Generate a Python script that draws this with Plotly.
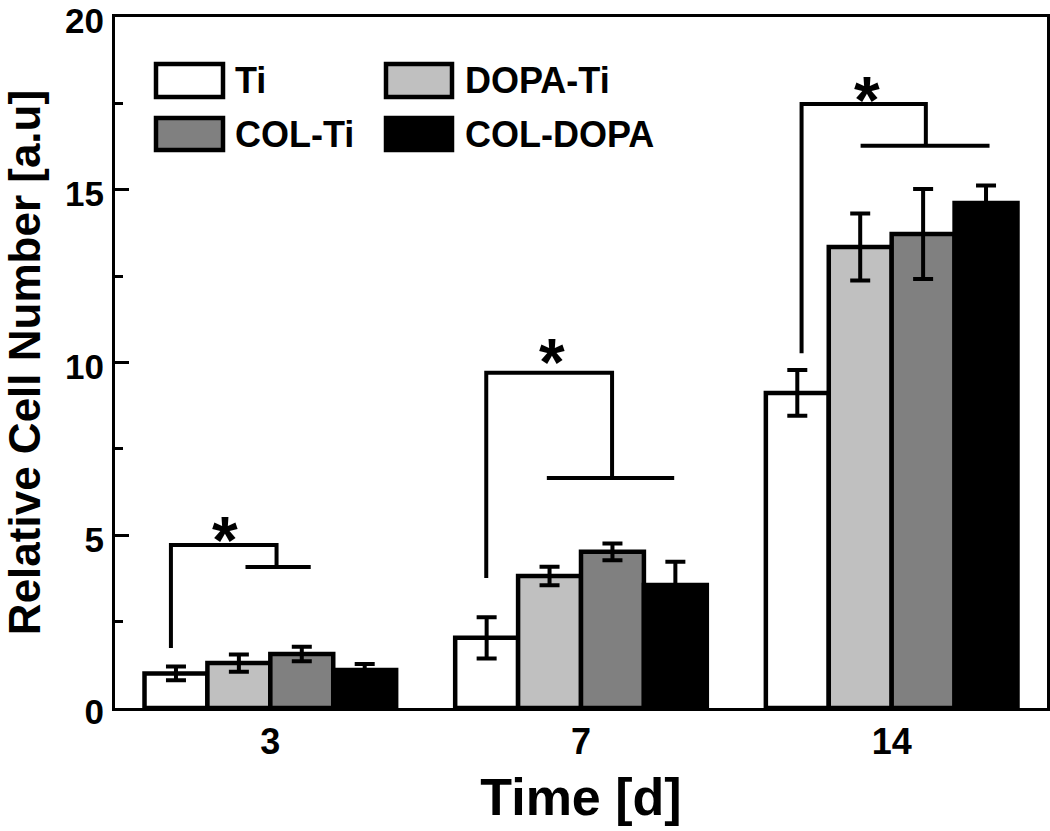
import plotly.graph_objects as go

# ---------------- data ----------------
categories = ["3", "7", "14"]
series_names = ["Ti", "DOPA-Ti", "COL-Ti", "COL-DOPA"]
series_colors = ["#ffffff", "#c0c0c0", "#808080", "#000000"]
values = {
    "Ti":       [1.00, 2.03, 9.12],
    "DOPA-Ti":  [1.30, 3.82, 13.34],
    "COL-Ti":   [1.56, 4.52, 13.72],
    "COL-DOPA": [1.10, 3.56, 14.62],
}
errors = {
    "Ti":       [0.20, 0.60, 0.66],
    "DOPA-Ti":  [0.25, 0.27, 0.97],
    "COL-Ti":   [0.21, 0.24, 1.30],
    "COL-DOPA": [0.17, 0.67, 0.50],
}
y_ticks = [0, 5, 10, 15, 20]

# significance brackets (offsets from category centre, y in data units)
br_left_x = [-0.32, -0.305, -0.29]
br_mid_x = [0.02, 0.10, 0.11]
br_low_x0 = [-0.08, -0.11, -0.10]
br_low_x1 = [0.13, 0.30, 0.315]
br_bottom_y = [1.74, 3.76, 10.27]
br_top_y = [4.72, 9.70, 17.48]
br_low_y = [4.08, 6.66, 16.27]
star_x = [-0.145, -0.093, -0.08]
star_y = [5.15, 10.3, 17.9]

FONT = "Liberation Sans, Arial, sans-serif"

fig = go.Figure()
for name, color in zip(series_names, series_colors):
    fig.add_trace(go.Bar(
        x=categories, y=values[name], name=name,
        marker=dict(color=color, line=dict(color="black", width=4.5)),
        error_y=dict(type="data", array=errors[name], visible=True,
                     color="black", thickness=4, width=10),
        showlegend=False,
    ))

# brackets
LW = 4
for i in range(len(categories)):
    xl = i + br_left_x[i]
    xm = i + br_mid_x[i]
    fig.add_shape(type="path", xref="x", yref="y",
                  path=f"M {xl} {br_bottom_y[i]} L {xl} {br_top_y[i]} L {xm} {br_top_y[i]} L {xm} {br_low_y[i]}",
                  line=dict(color="black", width=LW))
    fig.add_shape(type="line", xref="x", yref="y",
                  x0=i + br_low_x0[i], x1=i + br_low_x1[i], y0=br_low_y[i], y1=br_low_y[i],
                  line=dict(color="black", width=LW))
    fig.add_annotation(x=i + star_x[i], y=star_y[i], xref="x", yref="y", text="*",
                       showarrow=False, yanchor="middle", yshift=-10,
                       font=dict(family=FONT, size=66, color="black", weight="bold"))

# manual legend (paper coords)
PL, PR, PT, PB = 115, 1047, 17, 708
def px2paper_x(px):
    return (px - PL) / (PR - PL)
def px2paper_y(py):
    return (PB - py) / (PB - PT)

leg_cols = [(156, 223, 233), (386, 452, 463)]
leg_rows = [(64, 97), (118, 150)]
for k, (name, color) in enumerate(zip(series_names, series_colors)):
    r, c = divmod(k, 2)
    x0, x1, tx = leg_cols[c]
    y0, y1 = leg_rows[r]
    fig.add_shape(type="rect", xref="paper", yref="paper",
                  x0=px2paper_x(x0), x1=px2paper_x(x1),
                  y0=px2paper_y(y1), y1=px2paper_y(y0),
                  fillcolor=color, line=dict(color="black", width=4.5))
    fig.add_annotation(x=px2paper_x(tx), y=px2paper_y((y0 + y1) / 2),
                       xref="paper", yref="paper", text=name, showarrow=False,
                       xanchor="left", yanchor="middle",
                       font=dict(family=FONT, size=36, color="black", weight="bold"))

fig.update_layout(
    width=1050, height=831,
    margin=dict(l=PL, r=1050 - PR, t=PT, b=831 - PB, autoexpand=False),
    paper_bgcolor="white", plot_bgcolor="white",
    barmode="group", bargap=0.19, bargroupgap=0,
    font=dict(family=FONT, color="black"),
)
fig.update_xaxes(
    type="category", range=[-0.5, 2.5], automargin=False,
    showline=True, linecolor="black", linewidth=3, mirror=True,
    ticks="", showgrid=False,
    tickfont=dict(family=FONT, size=36, weight="bold"),
    title=dict(text="Time [d]", font=dict(family=FONT, size=52, weight="bold"), standoff=18),
)
fig.update_yaxes(
    range=[0, 20.0001], tickvals=y_ticks, automargin=False,
    showline=True, linecolor="black", linewidth=3, mirror=True,
    ticks="inside", ticklen=14, tickwidth=3, tickcolor="black",
    minor=dict(ticks="inside", ticklen=8, tickwidth=3, tickcolor="black", dtick=2.5),
    showgrid=False, zeroline=False, ticklabeloverflow="allow",
    tickfont=dict(family=FONT, size=35, weight="bold"),
    ticklabelstandoff=1, ticklabelshift=4,
    title=dict(text="Relative Cell Number [a.u]", font=dict(family=FONT, size=44, weight="bold"), standoff=30),
)

fig.write_html("out.html", config={"displayModeBar": False},
               post_script="document.body.style.margin='0';")
